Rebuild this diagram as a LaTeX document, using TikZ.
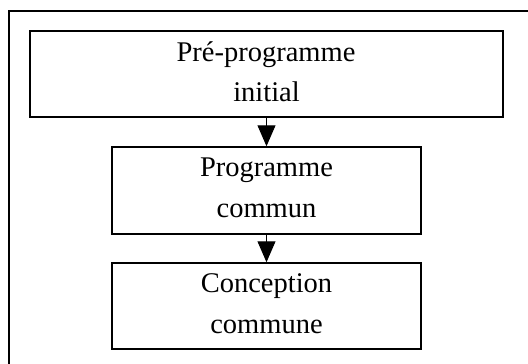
\documentclass[tikz,border=0pt]{standalone}
\usepackage{fontspec}
\setmainfont{Liberation Serif}
\usetikzlibrary{arrows.meta}
\tikzset{
  box/.style={draw=black, line width=1.5pt, rectangle, inner sep=0pt},
  txt/.style={font=\fontsize{28.5}{40}\selectfont, inner sep=0pt, anchor=base},
  flow/.style={line width=1pt, -{Triangle[length=21pt,width=18pt]}, shorten <=0pt, shorten >=0pt},
  frame/.style={draw=black, line width=1.5pt}
}
\begin{document}
\begin{tikzpicture}[x=1pt,y=-1pt]
\useasboundingbox (0,0) rectangle (528,364);
\begin{scope}
\clip (0,0) rectangle (528,364);
\draw[frame] (9,11) rectangle (545,380);
\end{scope}
\node[box, minimum width=473pt, minimum height=86pt] (b1) at (266.5,74) {};
\node[box, minimum width=309pt, minimum height=87pt] (b2) at (266.5,190.5) {};
\node[box, minimum width=309pt, minimum height=86pt] (b3) at (266.5,306) {};
\node[txt] (t1a) at (266,61) {Pré-programme};
\node[txt] (t1b) at (266.5,101) {initial};
\node[txt] (t2a) at (266.5,176) {Programme};
\node[txt] (t2b) at (266.5,217) {commun};
\node[txt] (t3a) at (266.5,292) {Conception};
\node[txt] (t3b) at (266.5,333) {commune};
\draw[flow] (b1.south) -- (b2.north);
\draw[flow] (b2.south) -- (b3.north);
\end{tikzpicture}
\end{document}
